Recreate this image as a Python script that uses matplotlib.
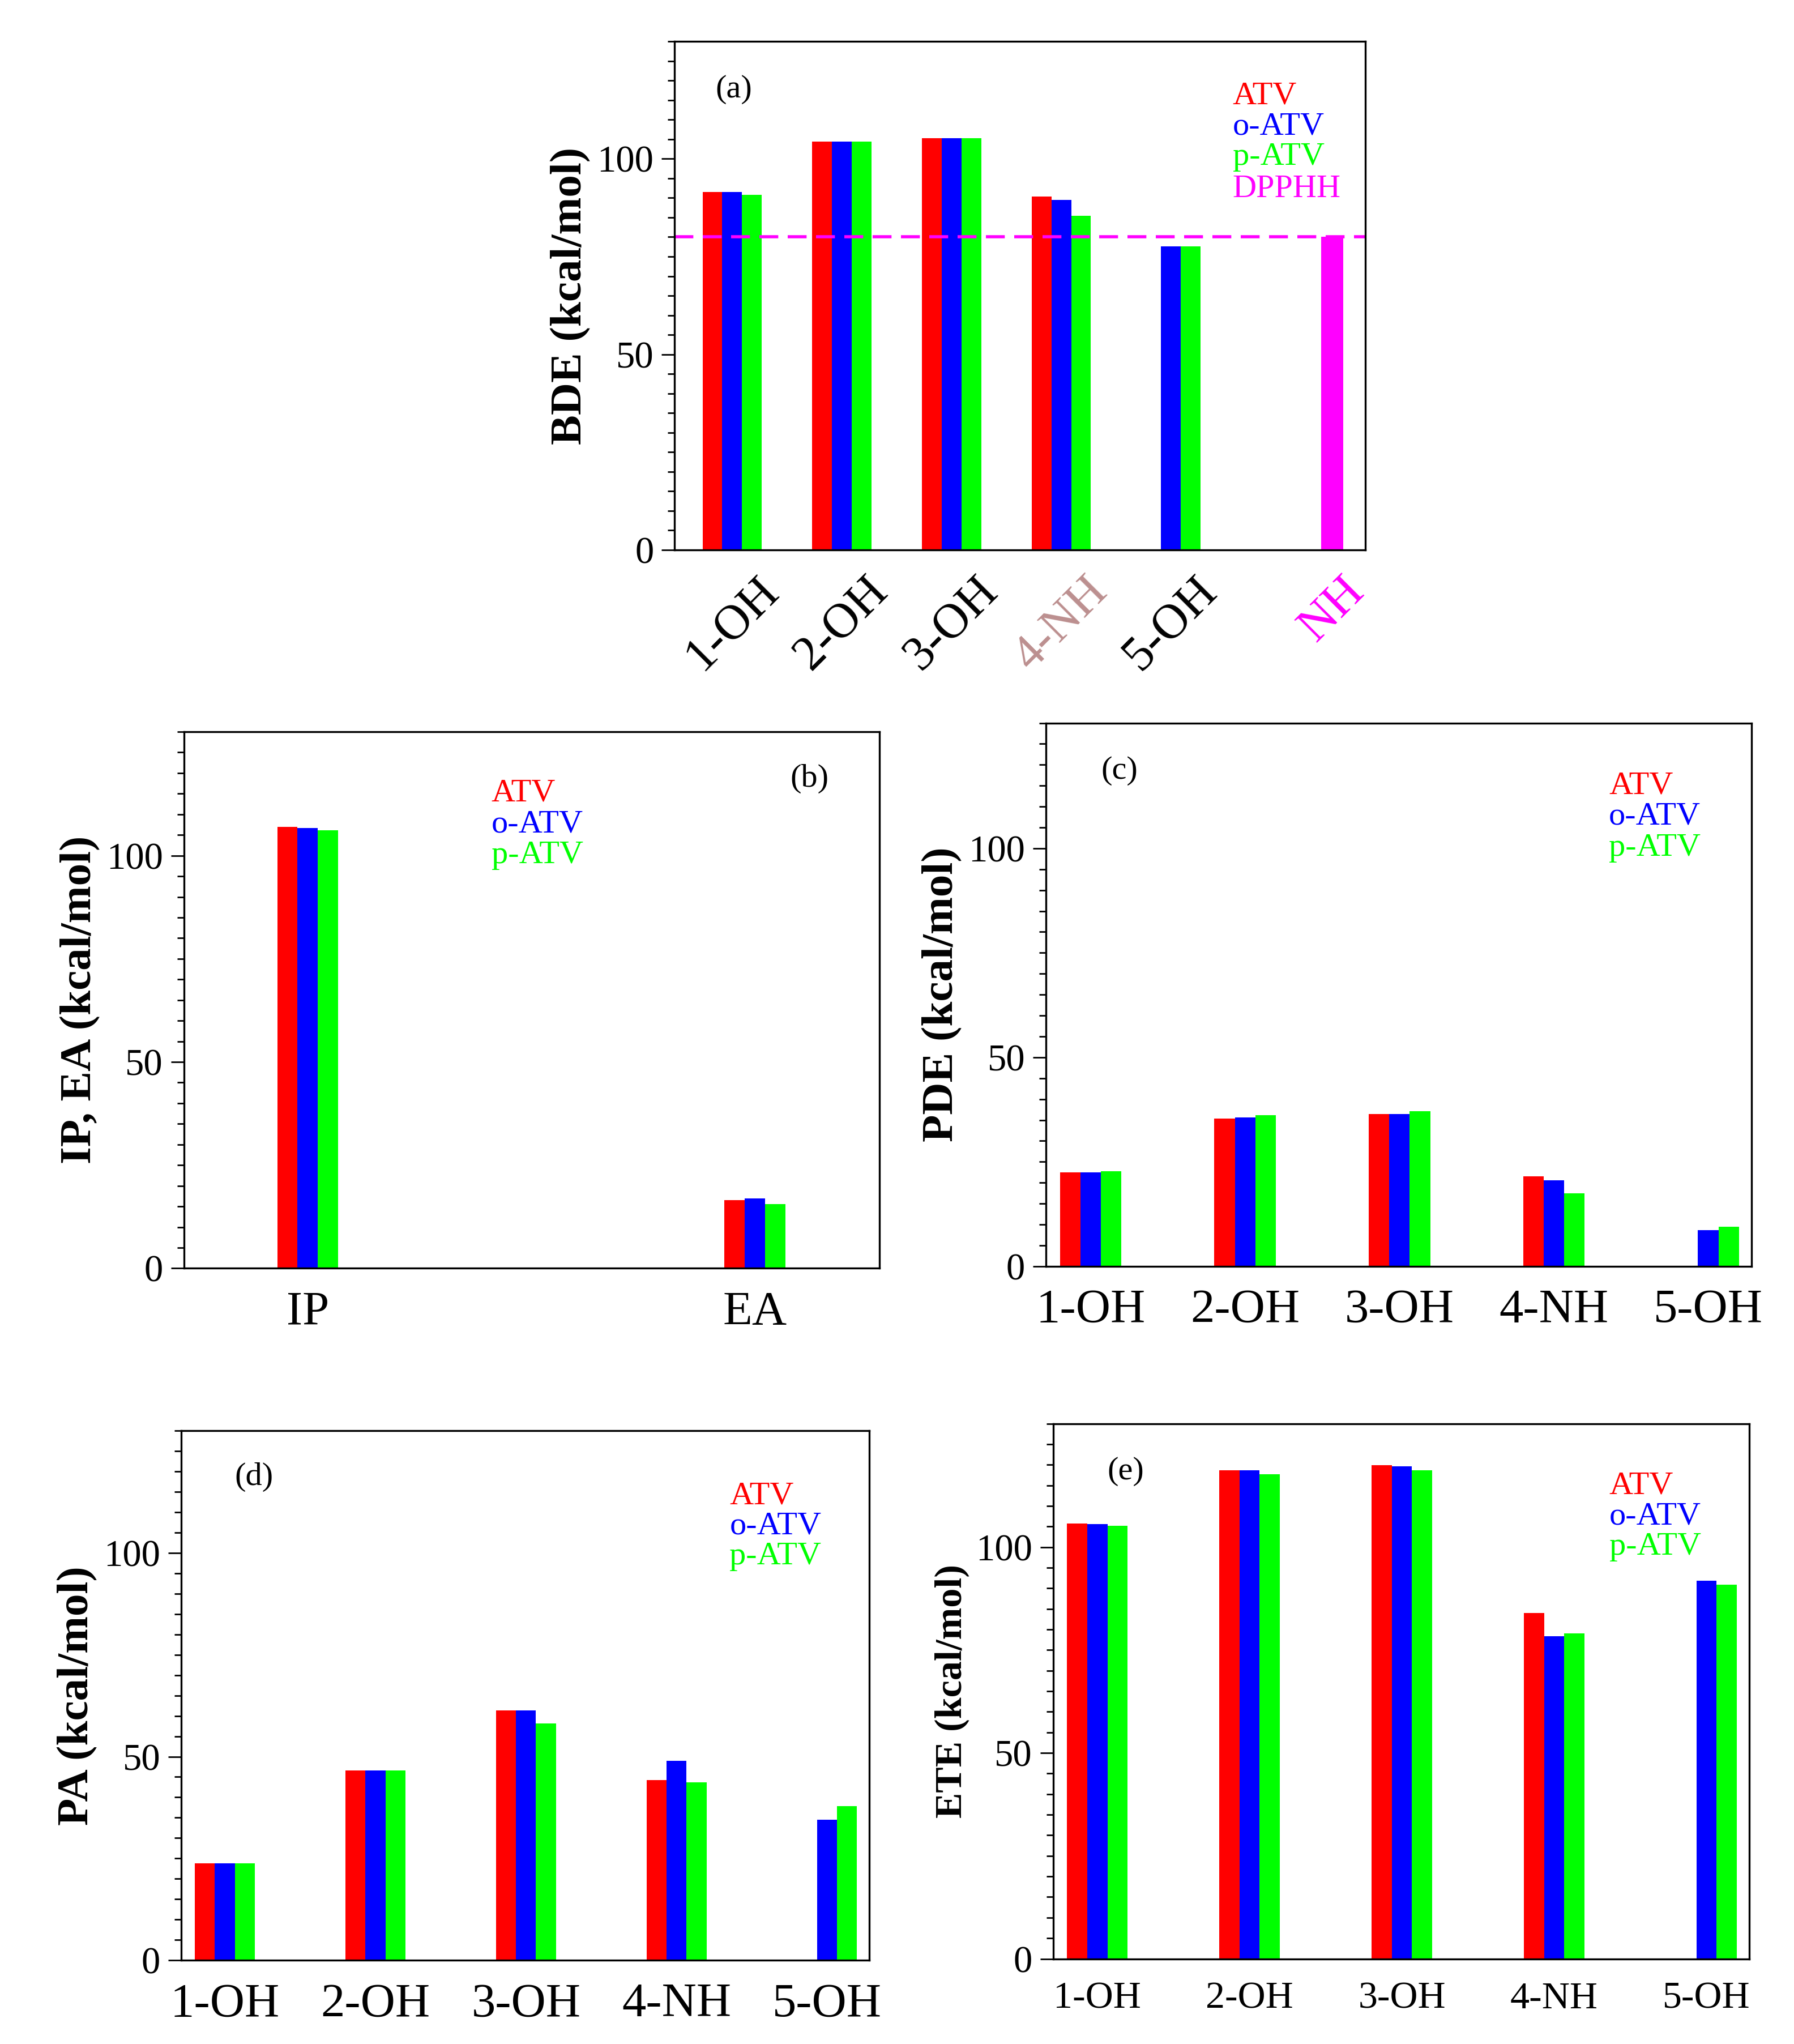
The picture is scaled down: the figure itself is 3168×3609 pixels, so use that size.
import numpy as np
import matplotlib
matplotlib.use('Agg')
import matplotlib.pyplot as plt
from matplotlib.ticker import MultipleLocator

plt.rcParams['font.family'] = ['Liberation Serif', 'DejaVu Serif']

nan = np.nan

# categories / series
sites = ['1-OH', '2-OH', '3-OH', '4-NH', '5-OH']
series = ['ATV', 'o-ATV', 'p-ATV']
colors = ['#ff0000', '#0000ff', '#00ff00']

# (a) BDE
bde_atv = [91.5, 104.4, 105.2, 90.4, nan]
bde_o = [91.5, 104.4, 105.2, 89.5, 77.6]
bde_p = [90.8, 104.4, 105.2, 85.5, 77.6]
bde_dpphh = 80.0

# (b) IP, EA
ipea_labels = ['IP', 'EA']
ipea_atv = [106.9, 16.5]
ipea_o = [106.7, 16.9]
ipea_p = [106.1, 15.5]

# (c) PDE
pde_atv = [22.5, 35.4, 36.4, 21.5, nan]
pde_o = [22.5, 35.6, 36.4, 20.6, 8.7]
pde_p = [22.7, 36.2, 37.1, 17.5, 9.5]

# (d) PA
pa_atv = [23.8, 46.6, 61.4, 44.2, nan]
pa_o = [23.8, 46.6, 61.4, 48.9, 34.5]
pa_p = [23.8, 46.6, 58.2, 43.7, 37.8]

# (e) ETE
ete_atv = [105.8, 118.7, 119.9, 84.0, nan]
ete_o = [105.6, 118.7, 119.6, 78.4, 91.9]
ete_p = [105.2, 117.7, 118.7, 79.0, 90.9]


def style_axis(ax, ylabel, ylabel_size=57, xlabel_size=61):
    ax.set_ylim(0, 130)
    ax.yaxis.set_major_locator(MultipleLocator(50))
    ax.yaxis.set_minor_locator(MultipleLocator(5))
    ax.tick_params(axis='y', which='major', direction='out', length=16.5,
                   width=2, labelsize=48, pad=10)
    ax.tick_params(axis='y', which='minor', direction='out', length=8.6, width=2)
    ax.tick_params(axis='x', length=0, pad=29, labelsize=xlabel_size)
    for s in ax.spines.values():
        s.set_linewidth(2.4)
    ax.set_ylabel(ylabel, fontsize=ylabel_size, fontweight='bold', labelpad=8)


def grouped(ax, vals, width):
    x = np.arange(len(vals[0]))
    for k, (v, c) in enumerate(zip(vals, colors)):
        ax.bar(x + (k - 1) * width, np.array(v, dtype=float), width,
               color=c, linewidth=0)
    return x


def legend(ax, x, ys, names, cols):
    for y, n, c in zip(ys, names, cols):
        ax.text(x, y, n, color=c, fontsize=42, transform=ax.transAxes,
                va='center', ha='left')


fig = plt.figure(figsize=(31.68, 36.09))

# ---- (a) BDE
ax = fig.add_axes([0.376, 0.731, 0.385, 0.2487])
x = grouped(ax, [bde_atv, bde_o, bde_p], 0.18)
nh_x = 5.47
ax.bar(nh_x, bde_dpphh, 0.2, color='#ff00ff', linewidth=0)
ax.axhline(bde_dpphh, color='#ff00ff', lw=4, linestyle=(0, (6, 3)))
ax.set_xlim(-0.525, 5.77)
style_axis(ax, 'BDE (kcal/mol)', xlabel_size=62)
ax.tick_params(axis='x', pad=24)
ax.set_xticks(list(x) + [nh_x], labels=sites + ['NH'], rotation=45, ha='center')
tick_cols = ['black', 'black', 'black', '#bc8f8f', 'black', '#ff00ff']
for lab, c in zip(ax.get_xticklabels(), tick_cols):
    lab.set_color(c)
ax.text(0.086, 0.906, '(a)', fontsize=42, transform=ax.transAxes,
        ha='center', va='center')
legend(ax, 0.808, [0.893, 0.833, 0.773, 0.71], series + ['DPPHH'],
       colors + ['#ff00ff'])

# ---- (b) IP, EA
ax = fig.add_axes([0.1025, 0.3795, 0.3878, 0.2625])
x = grouped(ax, [ipea_atv, ipea_o, ipea_p], 0.0455)
ax.set_xlim(-0.277, 1.279)
style_axis(ax, 'IP, EA (kcal/mol)')
ax.set_xticks(x, labels=ipea_labels)
ax.text(0.899, 0.913, '(b)', fontsize=42, transform=ax.transAxes,
        ha='center', va='center')
legend(ax, 0.442, [0.886, 0.827, 0.770], series, colors)

# ---- (c) PDE
ax = fig.add_axes([0.583, 0.3805, 0.3933, 0.2658])
x = grouped(ax, [pde_atv, pde_o, pde_p], 0.133)
ax.set_xlim(-0.29, 4.28)
style_axis(ax, 'PDE (kcal/mol)')
ax.set_xticks(x, labels=sites)
ax.text(0.104, 0.912, '(c)', fontsize=42, transform=ax.transAxes,
        ha='center', va='center')
legend(ax, 0.798, [0.884, 0.828, 0.770], series, colors)

# ---- (d) PA
ax = fig.add_axes([0.101, 0.041, 0.3835, 0.259])
x = grouped(ax, [pa_atv, pa_o, pa_p], 0.133)
ax.set_xlim(-0.29, 4.28)
style_axis(ax, 'PA (kcal/mol)')
ax.set_xticks(x, labels=sites)
ax.text(0.106, 0.913, '(d)', fontsize=42, transform=ax.transAxes,
        ha='center', va='center')
legend(ax, 0.797, [0.877, 0.820, 0.763], series, colors)

# ---- (e) ETE
ax = fig.add_axes([0.587, 0.0417, 0.388, 0.2618])
x = grouped(ax, [ete_atv, ete_o, ete_p], 0.133)
ax.set_xlim(-0.29, 4.28)
style_axis(ax, 'ETE (kcal/mol)', ylabel_size=49, xlabel_size=49)
ax.set_xticks(x, labels=sites)
ax.text(0.104, 0.911, '(e)', fontsize=42, transform=ax.transAxes,
        ha='center', va='center')
legend(ax, 0.799, [0.884, 0.827, 0.770], series, colors)

fig.savefig('out.png', dpi=100)
